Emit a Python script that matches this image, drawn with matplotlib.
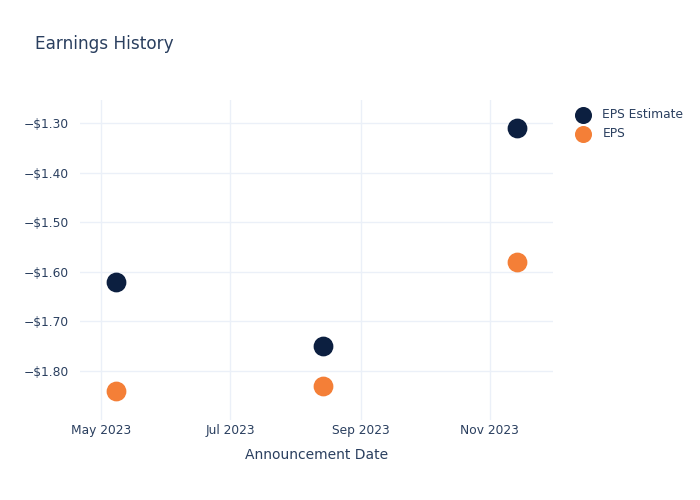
import matplotlib
matplotlib.use("Agg")
import matplotlib.pyplot as plt
import matplotlib.dates as mdates
import numpy as np
from datetime import datetime

dates = ["2023-05-08", "2023-08-14", "2023-11-14"]
eps_estimate = [-1.62, -1.75, -1.31]
eps_actual = [-1.84, -1.83, -1.58]

d = [datetime.strptime(s, "%Y-%m-%d") for s in dates]
txt = "#2a3f5f"
grid = "#ebf0f8"

fig = plt.figure(figsize=(7, 5), dpi=100)
ax = fig.add_axes([80/700, 80/500, (553-80)/700, 320/500])

ax.scatter(d, eps_estimate, s=175, color="#0c1f40", label="EPS Estimate", zorder=3)
ax.scatter(d, eps_actual, s=175, color="#f47f37", label="EPS", zorder=3)

ax.set_xlim(datetime(2023, 4, 21), datetime(2023, 12, 1))
ax.set_ylim(-1.899, -1.2536)
ax.set_yticks([-1.3, -1.4, -1.5, -1.6, -1.7, -1.8])
ax.yaxis.set_major_formatter(plt.FuncFormatter(lambda v, p: "\u2212$%.2f" % abs(v)))
ax.xaxis.set_major_locator(mdates.MonthLocator(bymonth=[5, 7, 9, 11]))
ax.xaxis.set_major_formatter(mdates.DateFormatter("%b %Y"))

ax.grid(True, color=grid, linewidth=1)
ax.set_axisbelow(True)
for s in ax.spines.values():
    s.set_visible(False)
ax.tick_params(length=0, labelsize=8.8, colors=txt)
ax.tick_params(axis="y", pad=8)
ax.tick_params(axis="x", pad=3)
ax.set_xlabel("Announcement Date", fontsize=10, color=txt, labelpad=8)

fig.text(35/700, 1 - 44/500, "Earnings History", fontsize=12.2, color=txt, va="center")

ax.legend(loc="upper left", bbox_to_anchor=(565/700, 1 - 102/500), bbox_transform=fig.transFigure,
          frameon=False, fontsize=8.8, labelcolor=txt, handletextpad=0.55, borderpad=0,
          labelspacing=0.5, markerscale=0.85)

fig.savefig("out.png", dpi=100)
